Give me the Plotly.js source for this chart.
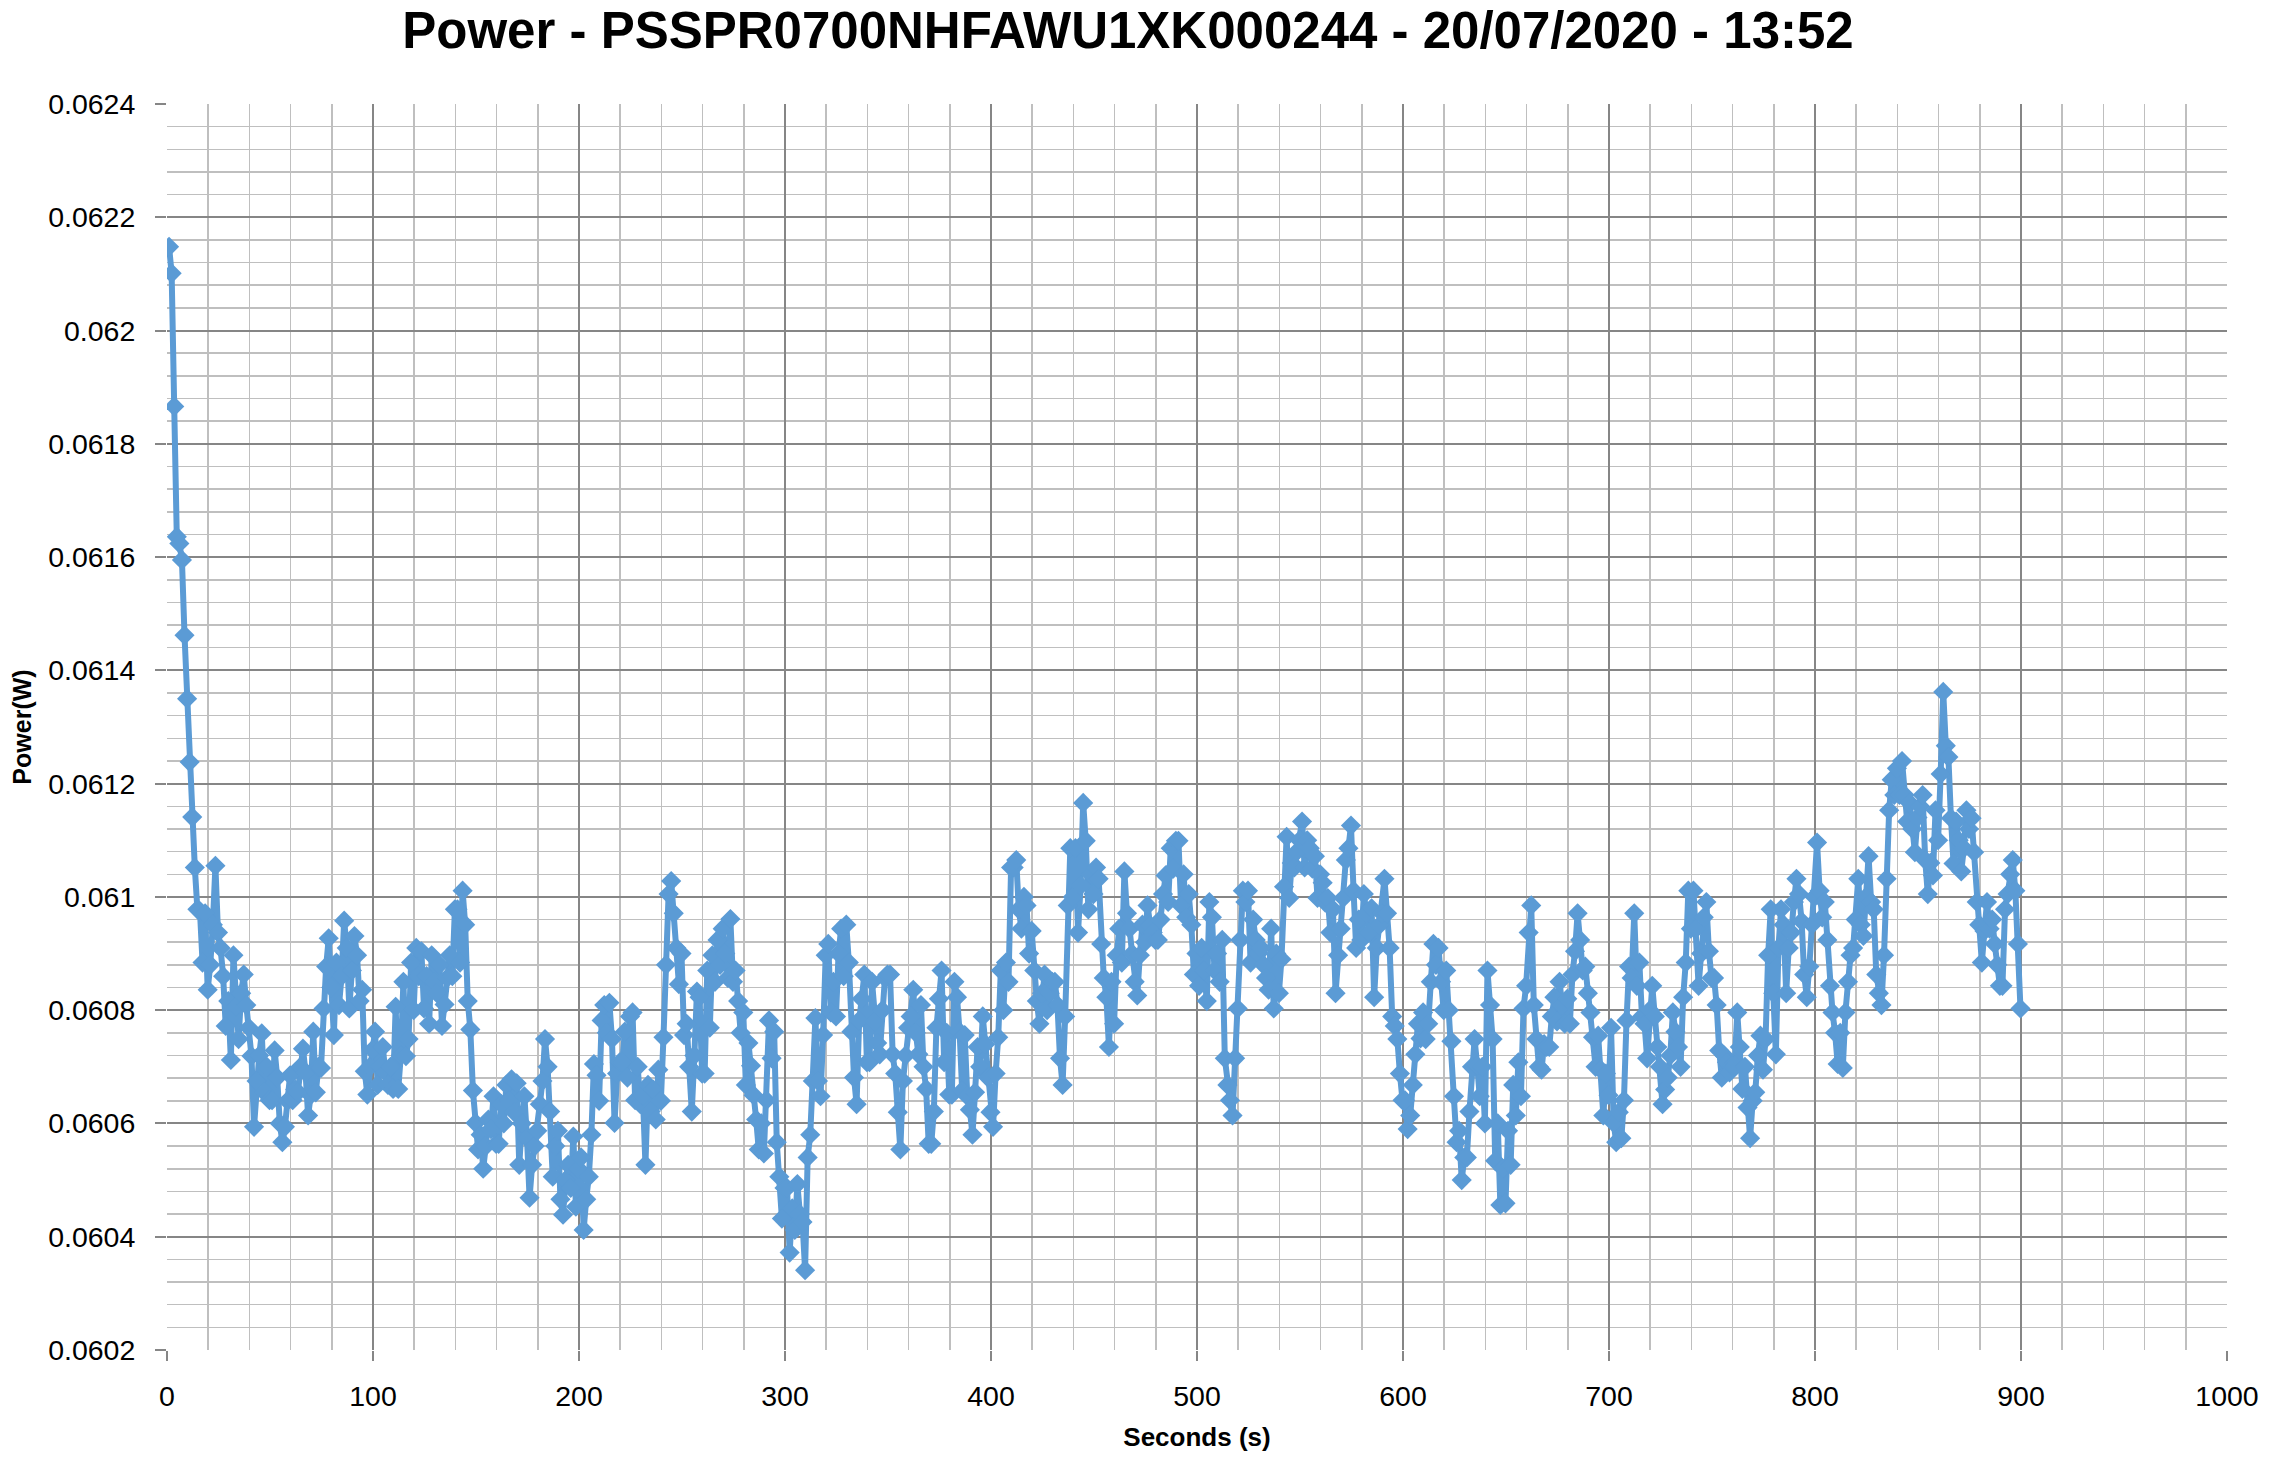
<!DOCTYPE html>
<html><head><meta charset="utf-8">
<script src="https://cdn.plot.ly/plotly-3.0.1.min.js"></script>
<style>html,body{margin:0;padding:0;background:#fff}#chart{width:2271px;height:1461px}</style>
</head><body><div id="chart"></div>
<script>
const TITLE = "Power - PSSPR0700NHFAWU1XK000244 - 20/07/2020 - 13:52";
const X_TITLE = "Seconds (s)";
const Y_TITLE = "Power(W)";
// sampling of the time axis (seconds)
const START_S = 1;
const STEP_S = 1.25;

const power_000_100 = [
0.062148,0.062101,0.061866,0.061636,0.061624,0.061595,0.061462,0.061350,
0.061238,0.061141,0.061052,0.060978,0.060975,0.060884,0.060971,0.060836,
0.060880,0.060951,0.061055,0.060937,0.060910,0.060860,0.060772,0.060816,
0.060712,0.060897,0.060806,0.060749,0.060830,0.060863,0.060809,0.060769,
0.060719,0.060594,0.060675,0.060720,0.060759,0.060655,0.060700,0.060641,
0.060641,0.060729,0.060681,0.060600,0.060567,0.060594,0.060640,0.060685,
0.060641,0.060660,0.060655,0.060700,0.060732,0.060690,0.060614,0.060650,
0.060762,0.060655,0.060700,0.060698,0.060803,0.060877,0.060927,0.060840,
0.060756,0.060884,0.060809,0.060860,0.060958,0.060910,0.060803,0.060870,
0.060931,0.060897,0.060816,0.060836,0.060692,0.060651,0.060700,0.060730];
const power_100_200 = [
0.060762,0.060668,0.060700,0.060735,0.060690,0.060668,0.060700,0.060661,
0.060806,0.060661,0.060720,0.060850,0.060719,0.060749,0.060884,0.060800,
0.060910,0.060860,0.060904,0.060803,0.060860,0.060776,0.060897,0.060850,
0.060830,0.060880,0.060772,0.060810,0.060857,0.060897,0.060860,0.060978,
0.060978,0.060884,0.061011,0.060951,0.060816,0.060766,0.060658,0.060601,
0.060554,0.060580,0.060520,0.060560,0.060607,0.060590,0.060648,0.060564,
0.060564,0.060634,0.060600,0.060668,0.060640,0.060678,0.060620,0.060671,
0.060527,0.060600,0.060648,0.060574,0.060469,0.060527,0.060560,0.060587,
0.060634,0.060675,0.060749,0.060700,0.060621,0.060506,0.060560,0.060587,
0.060466,0.060439,0.060500,0.060527,0.060486,0.060577,0.060453,0.060520];
const power_200_300 = [
0.060540,0.060412,0.060466,0.060506,0.060580,0.060705,0.060685,0.060640,
0.060782,0.060809,0.060760,0.060813,0.060749,0.060601,0.060688,0.060708,
0.060708,0.060762,0.060681,0.060789,0.060796,0.060641,0.060700,0.060634,
0.060650,0.060527,0.060668,0.060621,0.060660,0.060607,0.060695,0.060640,
0.060752,0.060880,0.061005,0.061028,0.060971,0.060910,0.060846,0.060900,
0.060756,0.060776,0.060700,0.060621,0.060720,0.060833,0.060823,0.060688,
0.060688,0.060870,0.060769,0.060897,0.060850,0.060924,0.060880,0.060944,
0.060900,0.060857,0.060961,0.060850,0.060870,0.060816,0.060760,0.060796,
0.060668,0.060742,0.060702,0.060650,0.060607,0.060554,0.060600,0.060547,
0.060641,0.060782,0.060715,0.060762,0.060567,0.060506,0.060432,0.060486];
const power_300_400 = [
0.060486,0.060372,0.060450,0.060412,0.060493,0.060440,0.060426,0.060341,
0.060540,0.060580,0.060675,0.060786,0.060675,0.060648,0.060756,0.060897,
0.060917,0.060796,0.060850,0.060789,0.060900,0.060944,0.060860,0.060951,
0.060884,0.060762,0.060681,0.060634,0.060782,0.060820,0.060863,0.060708,
0.060708,0.060850,0.060780,0.060742,0.060722,0.060800,0.060857,0.060863,
0.060863,0.060722,0.060688,0.060620,0.060554,0.060675,0.060720,0.060769,
0.060789,0.060836,0.060760,0.060722,0.060809,0.060700,0.060661,0.060564,
0.060564,0.060621,0.060769,0.060820,0.060870,0.060708,0.060760,0.060651,
0.060651,0.060850,0.060823,0.060762,0.060658,0.060756,0.060648,0.060624,
0.060580,0.060655,0.060735,0.060700,0.060789,0.060740,0.060681,0.060620];
const power_400_500 = [
0.060594,0.060688,0.060752,0.060870,0.060800,0.060884,0.060850,0.061052,
0.061052,0.061065,0.060978,0.060944,0.061000,0.060985,0.060900,0.060940,
0.060870,0.060816,0.060776,0.060830,0.060863,0.060800,0.060830,0.060850,
0.060850,0.060809,0.060715,0.060668,0.060789,0.060985,0.061086,0.061000,
0.061086,0.060937,0.061020,0.061166,0.061099,0.060978,0.061040,0.061005,
0.061052,0.061032,0.060917,0.060857,0.060823,0.060735,0.060850,0.060776,
0.060897,0.060944,0.060884,0.061045,0.060971,0.060944,0.060900,0.060850,
0.060826,0.060897,0.060951,0.060920,0.060985,0.060950,0.060937,0.060924,
0.060924,0.060960,0.061005,0.061038,0.060991,0.061086,0.061050,0.061099,
0.061099,0.060985,0.061040,0.060964,0.061005,0.060951,0.060863,0.060900];
const power_500_600 = [
0.060843,0.060910,0.060870,0.060816,0.060991,0.060964,0.060870,0.060900,
0.060850,0.060924,0.060715,0.060668,0.060641,0.060614,0.060715,0.060803,
0.060924,0.061011,0.060991,0.061011,0.060884,0.060960,0.060924,0.060900,
0.060910,0.060880,0.060857,0.060836,0.060944,0.060803,0.060900,0.060830,
0.060890,0.061018,0.061106,0.060998,0.061060,0.061052,0.061080,0.061100,
0.061133,0.061052,0.061100,0.061086,0.061050,0.061072,0.060998,0.061040,
0.061025,0.060990,0.060998,0.060937,0.060978,0.060830,0.060897,0.060944,
0.060998,0.061065,0.061086,0.061126,0.061011,0.060910,0.060960,0.060924,
0.061005,0.060971,0.060937,0.060980,0.060823,0.060910,0.060950,0.060971,
0.061032,0.060971,0.060910,0.060789,0.060772,0.060749,0.060688,0.060641];
const power_600_700 = [
0.060641,0.060590,0.060614,0.060668,0.060722,0.060776,0.060750,0.060796,
0.060749,0.060776,0.060850,0.060917,0.060880,0.060910,0.060850,0.060800,
0.060870,0.060800,0.060745,0.060648,0.060567,0.060587,0.060500,0.060540,
0.060540,0.060621,0.060700,0.060749,0.060702,0.060648,0.060700,0.060600,
0.060870,0.060809,0.060749,0.060534,0.060600,0.060456,0.060520,0.060459,
0.060587,0.060527,0.060668,0.060614,0.060708,0.060648,0.060803,0.060843,
0.060937,0.060985,0.060809,0.060749,0.060700,0.060695,0.060740,0.060735,
0.060735,0.060789,0.060823,0.060780,0.060850,0.060809,0.060776,0.060820,
0.060776,0.060863,0.060904,0.060971,0.060924,0.060870,0.060877,0.060830,
0.060796,0.060752,0.060700,0.060755,0.060695,0.060614,0.060688,0.060650];
const power_700_800 = [
0.060769,0.060601,0.060567,0.060620,0.060574,0.060641,0.060782,0.060877,
0.060857,0.060971,0.060843,0.060884,0.060789,0.060776,0.060715,0.060800,
0.060843,0.060789,0.060735,0.060700,0.060634,0.060660,0.060681,0.060720,
0.060796,0.060762,0.060735,0.060700,0.060823,0.060884,0.061011,0.060944,
0.061011,0.060944,0.060843,0.060900,0.060964,0.060991,0.060904,0.060857,
0.060857,0.060809,0.060729,0.060681,0.060720,0.060708,0.060690,0.060702,
0.060702,0.060796,0.060735,0.060661,0.060700,0.060628,0.060574,0.060640,
0.060655,0.060720,0.060755,0.060695,0.060749,0.060897,0.060978,0.060830,
0.060722,0.060910,0.060978,0.060951,0.060830,0.060910,0.060937,0.060991,
0.061032,0.061005,0.060957,0.060863,0.060823,0.060877,0.060951,0.061000];
const power_800_900 = [
0.061096,0.061011,0.060964,0.060991,0.060924,0.060843,0.060796,0.060760,
0.060705,0.060760,0.060698,0.060796,0.060850,0.060897,0.060910,0.060960,
0.061032,0.060951,0.060931,0.061000,0.061072,0.060991,0.060978,0.060863,
0.060830,0.060809,0.060897,0.061032,0.061153,0.061207,0.061180,0.061227,
0.061180,0.061240,0.061180,0.061133,0.061166,0.061120,0.061079,0.061140,
0.061160,0.061180,0.061065,0.061005,0.061060,0.061038,0.061153,0.061100,
0.061217,0.061362,0.061267,0.061247,0.061139,0.061059,0.061133,0.061100,
0.061045,0.061086,0.061153,0.061120,0.061139,0.061079,0.060991,0.060951,
0.060884,0.060940,0.060991,0.060944,0.060960,0.060917,0.060880,0.060843,
0.060843,0.060978,0.061005,0.061040,0.061065,0.061011,0.060917,0.060803];

const power = [].concat(power_000_100, power_100_200, power_200_300, power_300_400,
  power_400_500, power_500_600, power_600_700, power_700_800, power_800_900);

const FONT = 'Liberation Sans, Arial, sans-serif';
const BLUE = '#5B9BD5';
const MAJOR = '#868686';
const MINOR = '#bfbfbf';

const trace = {
  type: 'scatter', mode: 'lines+markers',
  x0: START_S, dx: STEP_S, y: power,
  line: {color: BLUE, width: 6},
  marker: {symbol: 'diamond', size: 15.5, color: BLUE, line: {width: 0}},
  hoverinfo: 'skip', showlegend: false
};

const layout = {
  width: 2271, height: 1461,
  margin: {l: 167, r: 44, t: 104, b: 111, pad: 0},
  paper_bgcolor: '#ffffff', plot_bgcolor: '#ffffff',
  showlegend: false,
  font: {family: FONT, color: '#000'},
  title: {text: TITLE, x: 0.4967, xref: 'container', xanchor: 'center',
          y: 1 - 30/1461, yref: 'container', yanchor: 'middle',
          font: {family: FONT, size: 51, color: '#000', weight: 'bold'}},
  xaxis: {
    range: [0, 1000], tick0: 0, dtick: 100,
    showgrid: true, gridcolor: MAJOR, gridwidth: 2,
    zeroline: false, showline: false,
    ticks: 'outside', ticklen: 10, tickwidth: 2, tickcolor: MAJOR,
    tickfont: {family: FONT, size: 28.5, color: '#000'},
    ticklabelstandoff: 11,
    minor: {dtick: 20, tick0: 0, showgrid: true, gridcolor: MINOR, gridwidth: 1.5},
    title: {text: X_TITLE, standoff: 16, font: {family: FONT, size: 26, color: '#000', weight: 'bold'}}
  },
  yaxis: {
    range: [0.0602, 0.0624], tick0: 0.0602, dtick: 0.0002,
    showgrid: true, gridcolor: MAJOR, gridwidth: 2,
    zeroline: false, showline: false,
    ticks: 'outside', ticklen: 11, tickwidth: 2, tickcolor: MAJOR,
    tickfont: {family: FONT, size: 28.5, color: '#000'},
    ticklabelstandoff: 14,
    minor: {dtick: 0.00004, tick0: 0.0602, showgrid: true, gridcolor: MINOR, gridwidth: 1.5},
    title: {text: Y_TITLE, standoff: 9, font: {family: FONT, size: 25, color: '#000', weight: 'bold'}}
  }
};

Plotly.newPlot('chart', [trace], layout, {displayModeBar: false, staticPlot: true});
</script>
</body></html>
